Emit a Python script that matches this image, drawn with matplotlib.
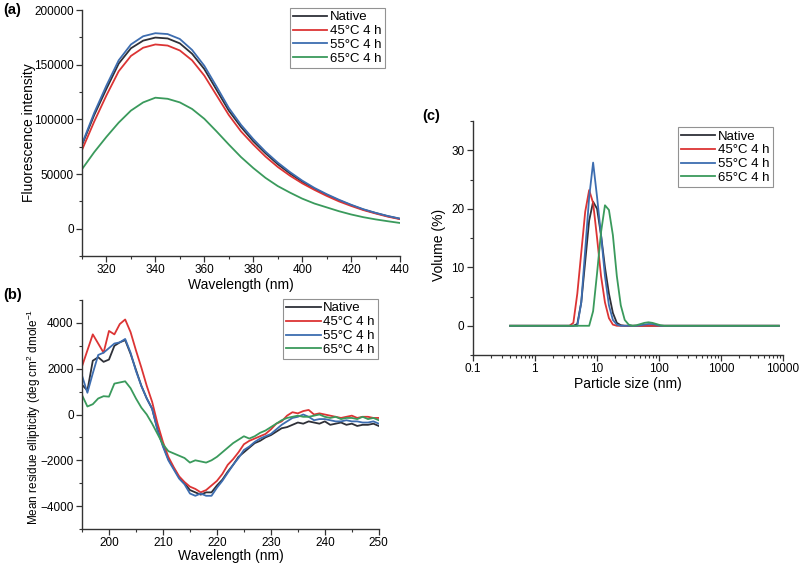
import numpy as np
import matplotlib.pyplot as plt
from matplotlib.ticker import MultipleLocator, FixedLocator, LogLocator, NullFormatter

plt.rcParams['font.family'] = ['Liberation Sans', 'DejaVu Sans']
plt.rcParams['mathtext.fontset'] = 'custom'
plt.rcParams['mathtext.rm'] = 'Liberation Sans'
plt.rcParams['mathtext.it'] = 'Liberation Sans'

labels = ["Native", "45\u00b0C 4 h", "55\u00b0C 4 h", "65\u00b0C 4 h"]
colors = ["#2e3038", "#dc3434", "#3d6db0", "#3a9a5c"]

# (a) fluorescence spectra
wl_a = [310, 315, 320, 325, 330, 335, 340, 345, 350, 355, 360, 365, 370, 375, 380,
        385, 390, 395, 400, 405, 410, 415, 420, 425, 430, 435, 440]
fl_native = [76500, 104000, 128000, 151000, 165000, 172000, 174800, 174000, 169500, 160000, 146000,
             127000, 108000, 93000, 80000, 69000, 59000, 50500, 43000, 36500, 31000, 26000,
             21500, 17500, 14300, 11400, 9000]
fl_45 = [72000, 98000, 122000, 144000, 158000, 165500, 168500, 167500, 163000, 154000, 140000,
         122000, 104000, 89000, 77000, 66000, 56500, 48500, 41500, 35500, 30000, 25000,
         20800, 17000, 13900, 11000, 8700]
fl_55 = [77500, 106000, 131000, 154000, 168500, 176000, 178800, 178000, 173500, 163500, 149000,
         130000, 110500, 95000, 82000, 70500, 60500, 51800, 44000, 37300, 31600, 26500,
         21900, 17800, 14500, 11600, 9200]
fl_65 = [54400, 70000, 84000, 97000, 108000, 115500, 119800, 118800, 115500, 109500, 100500,
         89000, 77000, 65500, 55500, 46500, 39000, 33000, 27500, 23000, 19500, 16000,
         13000, 10500, 8500, 6800, 5200]

# (b) CD spectra
wl_b = list(range(195, 251))
cd_native = [1300, 1050, 2350, 2500, 2300, 2400, 3000, 3150, 3250, 2650, 1950, 1250, 700, 250,
             -650, -1350, -1950, -2350, -2750, -3000, -3300, -3400, -3500, -3400, -3400, -3100,
             -2850, -2500, -2200, -1850, -1650, -1450, -1250, -1150, -1000, -900, -750, -600,
             -550, -450, -350, -400, -300, -350, -400, -300, -450, -400, -350, -450, -400,
             -500, -450, -450, -400, -500]
cd_45 = [2100, 2800, 3500, 3100, 2700, 3650, 3500, 3950, 4150, 3600, 2800, 2050, 1250, 550,
         -400, -1200, -1850, -2300, -2700, -2950, -3150, -3250, -3400, -3300, -3100, -2900,
         -2600, -2200, -1950, -1650, -1300, -1150, -1050, -950, -850, -650, -400, -300, -50,
         100, 50, 150, 200, 0, 50, 0, -50, -100, -150, -100, -50, -150, -100, -100, -150, -150]
cd_55 = [1700, 950, 1800, 2600, 2700, 2900, 3100, 3150, 3300, 2700, 1900, 1250, 700, 250,
         -700, -1400, -2000, -2400, -2800, -3050, -3450, -3550, -3450, -3550, -3550, -3200,
         -2900, -2550, -2200, -1900, -1550, -1400, -1200, -1050, -950, -850, -650, -450, -300,
         -150, -100, 0, -100, -250, -200, -200, -250, -300, -300, -250, -300, -300, -350,
         -350, -300, -400]
cd_65 = [850, 350, 450, 700, 800, 780, 1350, 1400, 1450, 1150, 700, 300, 0, -400, -850,
         -1300, -1600, -1700, -1800, -1900, -2100, -2000, -2050, -2100, -2000, -1850, -1650,
         -1450, -1250, -1100, -950, -1050, -950, -800, -700, -550, -400, -250, -150, -100,
         -50, -100, -100, -50, 0, -100, -150, -100, -200, -150, -150, -200, -100, -200,
         -150, -250]

# (c) particle size distribution (volume %)
size_c = [0.4, 3.615, 4.187, 4.849, 5.615, 6.503, 7.531, 8.721, 10.1, 11.7, 13.54, 15.69,
          18.17, 21.04, 24.36, 28.21, 32.67, 37.84, 43.82, 50.75, 58.77, 68.06, 78.82,
          91.28, 105.7, 122.4, 141.8, 8635]
vol_native = [0, 0, 0, 0.3, 4.0, 11.0, 18.0, 21.2, 20.0, 15.5, 10.0, 5.5, 2.2, 0.5, 0.1,
              0, 0, 0, 0, 0, 0, 0, 0, 0, 0, 0, 0, 0]
vol_45 = [0, 0, 0.5, 5.5, 12.5, 19.5, 23.2, 21.0, 15.0, 8.5, 4.0, 1.3, 0.2, 0, 0,
          0, 0, 0, 0, 0, 0, 0, 0, 0, 0, 0, 0, 0]
vol_55 = [0, 0, 0, 0, 4.0, 13.0, 22.0, 27.9, 22.0, 15.5, 8.5, 3.5, 1.0, 0.2, 0,
          0, 0, 0, 0, 0.1, 0.2, 0.3, 0.3, 0.15, 0, 0, 0, 0]
vol_65 = [0, 0, 0, 0, 0, 0, 0, 2.5, 9.0, 16.0, 20.6, 19.8, 15.5, 8.5, 3.5,
          1.0, 0.2, 0, 0.1, 0.3, 0.5, 0.6, 0.5, 0.3, 0.1, 0, 0, 0]

fig = plt.figure(figsize=(8, 5.63), dpi=100)
ax_a = fig.add_axes([0.1025, 0.5453, 0.3975, 0.4369])
ax_b = fig.add_axes([0.1025, 0.0604, 0.371, 0.4067])
ax_c = fig.add_axes([0.591, 0.3694, 0.3875, 0.4156])

tick_fs = 8.5
lab_fs = 10
spine_col = "#333333"


def style(ax):
    for s in ["top", "right"]:
        ax.spines[s].set_visible(False)
    for s in ["left", "bottom"]:
        ax.spines[s].set_color(spine_col)
        ax.spines[s].set_linewidth(1.0)
    ax.tick_params(which="major", direction="out", length=4, width=0.9, color=spine_col,
                   labelsize=tick_fs, pad=2)
    ax.tick_params(which="minor", direction="out", length=2.2, width=0.8, color=spine_col)


def legend(ax, anchor):
    leg = ax.legend(loc="upper right", bbox_to_anchor=anchor, bbox_transform=fig.transFigure,
                    fontsize=9.5, frameon=True, fancybox=False, handlelength=2.6,
                    handletextpad=0.2, labelspacing=0.12, borderpad=0.25, borderaxespad=0)
    leg.get_frame().set_edgecolor("#777777")
    leg.get_frame().set_linewidth(0.8)


# panel (a)
for y, c, l in zip([fl_native, fl_45, fl_55, fl_65], colors, labels):
    ax_a.plot(wl_a, y, color=c, lw=1.3, label=l)
ax_a.set_xlim(310, 440)
ax_a.set_ylim(-25000, 200000)
ax_a.xaxis.set_major_locator(FixedLocator([320, 340, 360, 380, 400, 420, 440]))
ax_a.xaxis.set_minor_locator(MultipleLocator(10))
ax_a.yaxis.set_major_locator(MultipleLocator(50000))
ax_a.yaxis.set_minor_locator(MultipleLocator(25000))
style(ax_a)
ax_a.set_xlabel("Wavelength (nm)", fontsize=lab_fs, labelpad=1)
ax_a.set_ylabel("Fluorescence intensity", fontsize=lab_fs)
ax_a.yaxis.set_label_coords(-0.145, 0.5)
legend(ax_a, (0.481, 0.986))

# panel (b)
for y, c, l in zip([cd_native, cd_45, cd_55, cd_65], colors, labels):
    ax_b.plot(wl_b, y, color=c, lw=1.3, label=l)
ax_b.set_xlim(195, 250)
ax_b.set_ylim(-5000, 5000)
ax_b.xaxis.set_major_locator(FixedLocator([200, 210, 220, 230, 240, 250]))
ax_b.xaxis.set_minor_locator(MultipleLocator(5))
ax_b.yaxis.set_major_locator(MultipleLocator(2000))
ax_b.yaxis.set_minor_locator(MultipleLocator(1000))
style(ax_b)
ax_b.set_xlabel("Wavelength (nm)", fontsize=lab_fs, labelpad=0)
ax_b.set_ylabel("Mean residue ellipticity (deg cm$^{2}$ dmole$^{-1}$", fontsize=8.5)
ax_b.yaxis.set_label_coords(-0.13, 0.49)
legend(ax_b, (0.4725, 0.469))

# panel (c)
for y, c, l in zip([vol_native, vol_45, vol_55, vol_65], colors, labels):
    ax_c.plot(size_c, y, color=c, lw=1.3, label=l)
ax_c.set_xscale("log")
ax_c.set_xlim(0.1, 10000)
ax_c.set_ylim(-5, 35)
ax_c.set_xticks([0.1, 1, 10, 100, 1000, 10000])
ax_c.set_xticklabels(["0.1", "1", "10", "100", "1000", "10000"])
ax_c.xaxis.set_minor_locator(LogLocator(base=10, subs=np.arange(2, 10)))
ax_c.xaxis.set_minor_formatter(NullFormatter())
ax_c.yaxis.set_major_locator(FixedLocator([0, 10, 20, 30]))
ax_c.yaxis.set_minor_locator(MultipleLocator(5))
style(ax_c)
ax_c.set_xlabel("Particle size (nm)", fontsize=lab_fs, labelpad=1)
ax_c.set_ylabel("Volume (%)", fontsize=lab_fs)
ax_c.yaxis.set_label_coords(-0.085, 0.47)
legend(ax_c, (0.966, 0.7744))

fig.text(0.004, 0.982, "(a)", fontsize=10.5, fontweight="bold", va="center")
fig.text(0.004, 0.476, "(b)", fontsize=10.5, fontweight="bold", va="center")
fig.text(0.528, 0.794, "(c)", fontsize=10.5, fontweight="bold", va="center")

fig.savefig("out.png", dpi=100)
